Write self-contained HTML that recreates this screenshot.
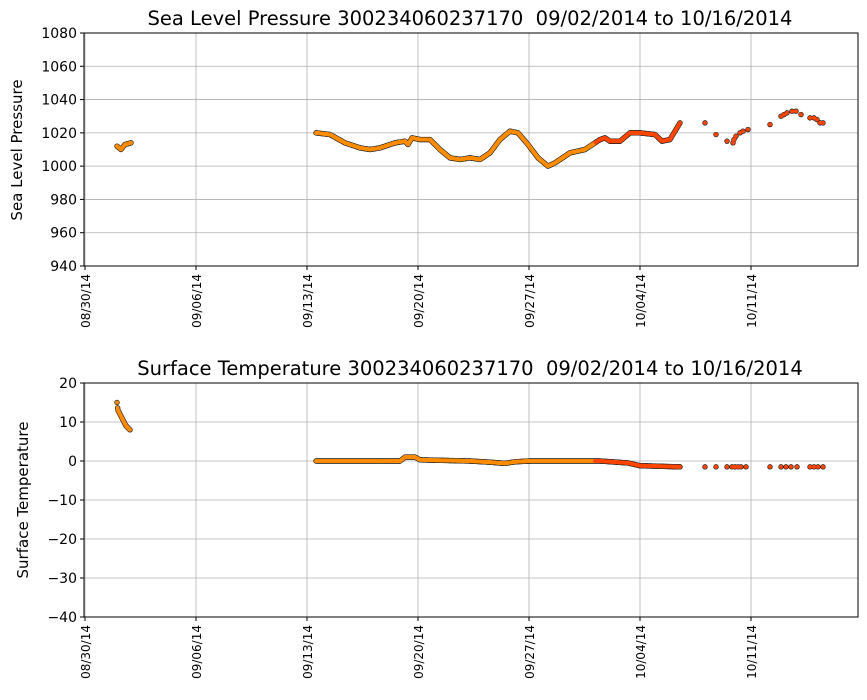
<!DOCTYPE html>
<html><head><meta charset="utf-8"><style>
body{margin:0;background:#fff;}
svg{display:block;font-family:"DejaVu Sans","Liberation Sans",sans-serif;}
</style></head><body>
<svg id="s" width="867" height="700" xmlns="http://www.w3.org/2000/svg">
<rect width="867" height="700" fill="#fff"/>
<g id="g"></g>
<text x="470" y="25" font-size="19.5" text-anchor="middle" xml:space="preserve">Sea Level Pressure 300234060237170  09/02/2014 to 10/16/2014</text>
<text x="470" y="375" font-size="19.5" text-anchor="middle" xml:space="preserve">Surface Temperature 300234060237170  09/02/2014 to 10/16/2014</text>
<text transform="translate(22,150) rotate(-90)" font-size="15" text-anchor="middle">Sea Level Pressure</text>
<text transform="translate(28,500) rotate(-90)" font-size="15" text-anchor="middle">Surface Temperature</text>
</svg>
<script>
const g=document.getElementById('g');let h='';
const xt=[85,196,307,418,529,640,751],xl=['08/30/14','09/06/14','09/13/14','09/20/14','09/27/14','10/04/14','10/11/14'];
function axes(y0,y1,vmin,vmax,step){
 const yy=v=>y1-(v-vmin)/(vmax-vmin)*(y1-y0);
 for(let v=vmin;v<=vmax;v+=step){const y=yy(v);h+=`<line x1="84" x2="858" y1="${y}" y2="${y}" stroke="#b0b0b0" stroke-width="0.8"/><line x1="80" x2="84" y1="${y}" y2="${y}" stroke="#000"/><text x="77" y="${y+5}" font-size="14" text-anchor="end">${v<0?'\u2212'+(-v):v}</text>`;}
 xt.forEach((x,i)=>{h+=`<line x1="${x}" x2="${x}" y1="${y0}" y2="${y1}" stroke="#b0b0b0" stroke-width="0.8"/><line x1="${x}" x2="${x}" y1="${y1}" y2="${y1+4}" stroke="#000"/><text transform="translate(${x+5},${y1+8}) rotate(-90)" font-size="12" text-anchor="end">${xl[i]}</text>`;});
 h+=`<rect x="84" y="${y0}" width="774" height="${y1-y0}" fill="none" stroke="#000" stroke-width="1"/>`;
 return yy;
}
function series(yy,segs,pts){
 let a1='',a2='';
 const dot=(x,v)=>{const col=x>595?'#ff4500':'#ff8c00';const y=yy(v);a1+=`<circle cx="${x}" cy="${y}" r="2.7" fill="#222"/>`;a2+=`<circle cx="${x}" cy="${y}" r="2.0" fill="${col}"/>`;};
 segs.forEach(s=>{for(let i=0;i<s.length-1;i++){const[a,va]=s[i],[b,vb]=s[i+1];for(let x=a;x<b;x+=0.7)dot(x,va+(vb-va)*(x-a)/(b-a));}dot(...s[s.length-1]);});
 pts.forEach(p=>dot(...p));
 h+=a1+a2;
}
const y1=axes(33,266,940,1080,20);
series(y1,[[[117,1012],[121,1010],[125,1013],[131,1014]],
[[316,1020],[330,1019],[345,1014],[360,1011],[370,1010],[380,1011],[395,1014],[405,1015],[408,1013],[412,1017],[420,1016],[430,1016],[440,1010],[450,1005],[460,1004],[470,1005],[480,1004],[490,1008],[500,1016],[510,1021],[518,1020],[528,1013],[538,1005],[548,1000],[555,1002],[570,1008],[585,1010],[600,1016],[605,1017],[610,1015],[620,1015],[630,1020],[640,1020],[655,1019],[662,1015],[670,1016],[680,1026]]],
[[705,1026],[716,1019],[727,1015],[733,1014],[734,1016],[736,1018],[740,1020],[743,1021],[748,1022],[770,1025],[781,1030],[784,1031],[787,1032],[792,1033],[796,1033],[801,1031],[810,1029],[814,1029],[817,1028],[820,1026],[823,1026]]);
const y2=axes(383,617,-40,20,10);
series(y2,[[[117,15],[118,13],[122,11],[126,9],[130,8]],
[[316,0],[400,0],[405,1],[415,1],[420,0.3],[470,0],[490,-0.3],[505,-0.6],[515,-0.2],[530,0],[600,0],[628,-0.5],[640,-1.2],[680,-1.5]]],
[[705,-1.5],[716,-1.5],[727,-1.5],[732,-1.5],[735,-1.5],[738,-1.5],[741,-1.5],[746,-1.5],[770,-1.5],[781,-1.5],[786,-1.5],[791,-1.5],[797,-1.5],[810,-1.5],[814,-1.5],[818,-1.5],[823,-1.5]]);
g.innerHTML=h;
</script>
</body></html>
